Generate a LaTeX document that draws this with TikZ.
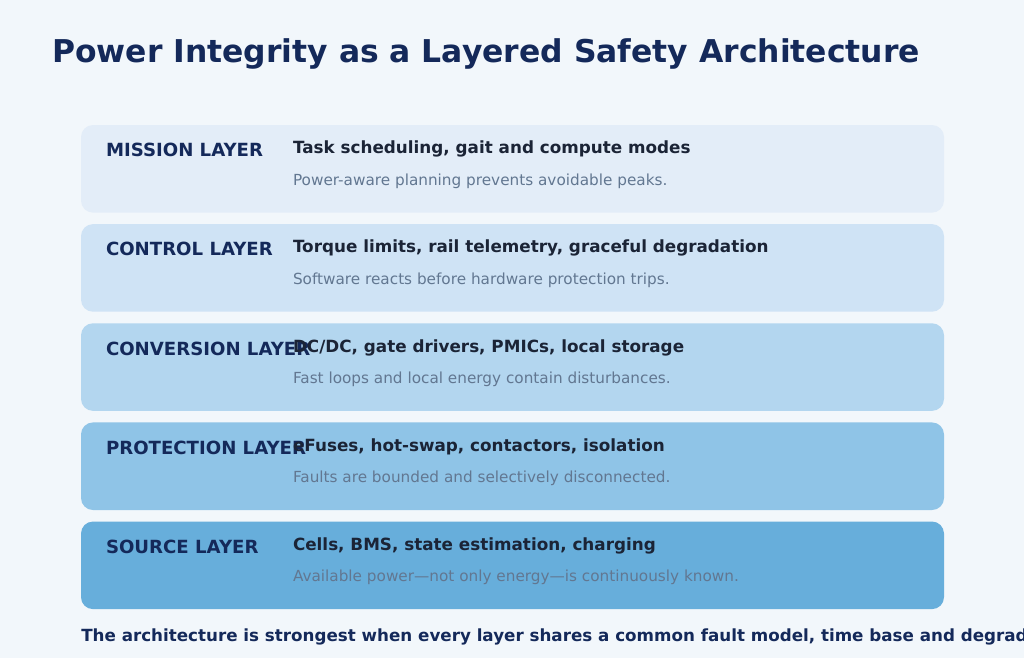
\documentclass[tikz,border=0pt]{standalone}
\usepackage{fontspec}
\setmainfont{DejaVu Sans}
\usetikzlibrary{positioning, calc}
\definecolor{PageBg}{HTML}{F2F7FB}
\definecolor{Navy}{HTML}{14295A}
\definecolor{InkDark}{HTML}{1B2436}
\definecolor{Slate}{HTML}{627791}
\definecolor{MissionFill}{HTML}{E3EDF8}
\definecolor{ControlFill}{HTML}{CFE3F5}
\definecolor{ConversionFill}{HTML}{B3D6EF}
\definecolor{ProtectionFill}{HTML}{8FC4E7}
\definecolor{SourceFill}{HTML}{67AEDB}

\begin{document}
\begin{tikzpicture}[x=0.75pt, y=-0.75pt,
    layer/.style={rectangle, rounded corners=9pt, minimum width=647.25pt, minimum height=65.7pt, inner sep=0pt},
    tag/.style={anchor=base west, inner sep=0pt, font=\fontsize{13.6}{16}\selectfont\bfseries, text=Navy},
    head/.style={anchor=base west, inner sep=0pt, font=\fontsize{12.6}{15}\selectfont\bfseries, text=InkDark},
    note/.style={anchor=base west, inner sep=0pt, font=\fontsize{11.45}{14}\selectfont, text=Slate}]
    \fill[PageBg] (0,0) rectangle (1024,658);
    \useasboundingbox (0,0) rectangle (1024,658);

    \node[anchor=base west, inner sep=0pt, font=\fontsize{23.55}{28}\selectfont\bfseries, text=Navy] (title) at (52,62) {Power Integrity as a Layered Safety Architecture};

    % layer bands, top to bottom
    \node[layer, fill=MissionFill] (mission) at (512.5,168.8) {};
    \node[layer, fill=ControlFill, below=8.25pt of mission] (control) {};
    \node[layer, fill=ConversionFill, below=8.25pt of control] (conversion) {};
    \node[layer, fill=ProtectionFill, below=8.25pt of conversion] (protection) {};
    \node[layer, fill=SourceFill, below=8.25pt of protection] (source) {};

    \node[tag] (missiontag) at ($(mission.north west)+(25,32)$) {MISSION LAYER};
    \node[head] (missionhead) at ($(mission.north west)+(212,29)$) {Task scheduling, gait and compute modes};
    \node[note] (missionnote) at ($(mission.north west)+(212,60.5)$) {Power-aware planning prevents avoidable peaks.};

    \node[tag] (controltag) at ($(control.north west)+(25,32)$) {CONTROL LAYER};
    \node[head] (controlhead) at ($(control.north west)+(212,29)$) {Torque limits, rail telemetry, graceful degradation};
    \node[note] (controlnote) at ($(control.north west)+(212,60.5)$) {Software reacts before hardware protection trips.};

    \node[tag] (conversiontag) at ($(conversion.north west)+(25,32)$) {CONVERSION LAYER};
    \node[head] (conversionhead) at ($(conversion.north west)+(212,29)$) {DC/DC, gate drivers, PMICs, local storage};
    \node[note] (conversionnote) at ($(conversion.north west)+(212,60.5)$) {Fast loops and local energy contain disturbances.};

    \node[tag] (protectiontag) at ($(protection.north west)+(25,32)$) {PROTECTION LAYER};
    \node[head] (protectionhead) at ($(protection.north west)+(212,29)$) {eFuses, hot-swap, contactors, isolation};
    \node[note] (protectionnote) at ($(protection.north west)+(212,60.5)$) {Faults are bounded and selectively disconnected.};

    \node[tag] (sourcetag) at ($(source.north west)+(25,32)$) {SOURCE LAYER};
    \node[head] (sourcehead) at ($(source.north west)+(212,29)$) {Cells, BMS, state estimation, charging};
    \node[note] (sourcenote) at ($(source.north west)+(212,60.5)$) {Available power---not only energy---is continuously known.};

    \node[anchor=base west, inner sep=0pt, font=\fontsize{12.55}{15}\selectfont\bfseries, text=Navy] (summary) at (81,641) {The architecture is strongest when every layer shares a common fault model, time base and degradation};
\end{tikzpicture}
\end{document}
